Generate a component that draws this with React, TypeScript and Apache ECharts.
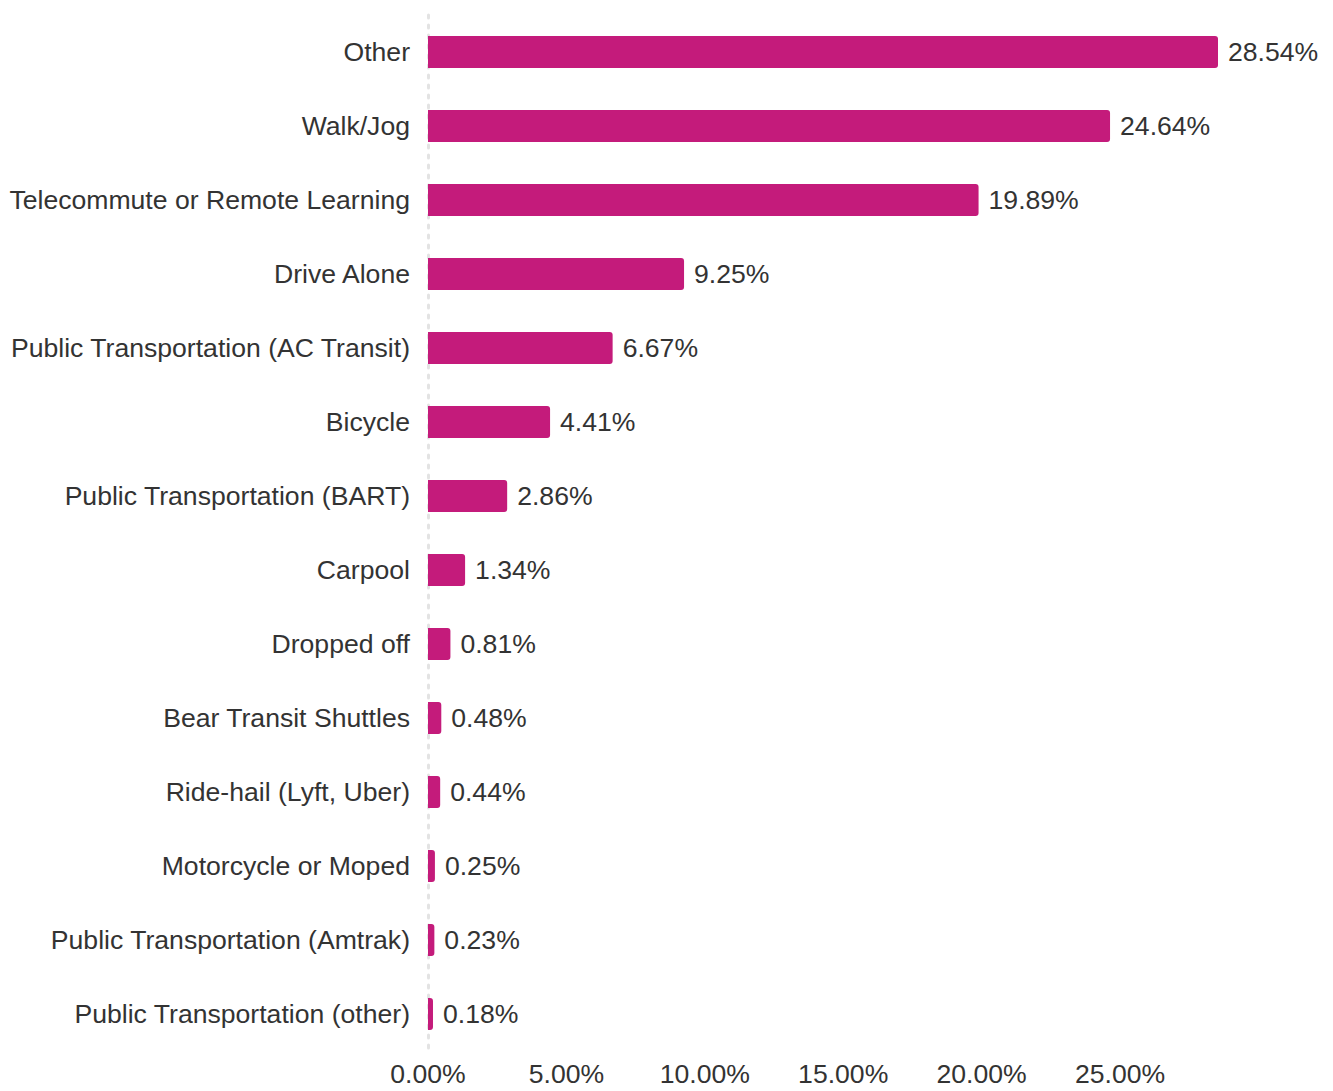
import React, { useEffect, useRef } from "react";
import * as echarts from "echarts";

const categories = [
  "Other",
  "Walk/Jog",
  "Telecommute or Remote Learning",
  "Drive Alone",
  "Public Transportation (AC Transit)",
  "Bicycle",
  "Public Transportation (BART)",
  "Carpool",
  "Dropped off",
  "Bear Transit Shuttles",
  "Ride-hail (Lyft, Uber)",
  "Motorcycle or Moped",
  "Public Transportation (Amtrak)",
  "Public Transportation (other)",
];
const values = [28.54, 24.64, 19.89, 9.25, 6.67, 4.41, 2.86, 1.34, 0.81, 0.48, 0.44, 0.25, 0.23, 0.18];
const axisMin = 0;
const axisMax = 28.54;
const axisInterval = 5;

export default function App() {
  const ref = useRef<HTMLDivElement>(null);
  useEffect(() => {
    if (!ref.current) return;
    const chart = echarts.init(ref.current, null, { renderer: "svg" });
    const font = "'Liberation Sans', Arial, sans-serif";
    const fs = 26.6;
    chart.setOption({
      animation: false,
      grid: { left: 428, right: 115, top: 15, bottom: 40, containLabel: false },
      xAxis: {
        type: "value",
        min: axisMin,
        max: axisMax,
        interval: axisInterval,
        axisLine: { show: false },
        axisTick: { show: false },
        splitLine: { show: false },
        axisLabel: {
          showMaxLabel: false,
          formatter: (v: number) => v.toFixed(2) + "%",
          fontSize: fs,
          color: "#333333",
          fontFamily: font,
          margin: 9,
        },
      },
      yAxis: {
        type: "category",
        data: categories,
        inverse: true,
        axisTick: { show: false },
        axisLine: {
          show: true,
          lineStyle: { color: "#e3e3e3", width: 3, type: [3, 7] },
        },
        axisLabel: {
          fontSize: fs,
          color: "#333333",
          fontFamily: font,
          margin: 18,
        },
      },
      series: [
        {
          type: "bar",
          data: values,
          barWidth: 32,
          itemStyle: { color: "#c41b7b", borderRadius: [0, 3, 3, 0] },
          label: {
            show: true,
            position: "right",
            distance: 10,
            formatter: (p: any) => p.value.toFixed(2) + "%",
            fontSize: fs,
            color: "#333333",
            fontFamily: font,
          },
        },
      ],
    });
    return () => chart.dispose();
  }, []);
  return (
    <div
      ref={ref}
      style={{ position: "absolute", left: 0, top: 0, width: 1333, height: 1091, background: "#ffffff" }}
    />
  );
}
